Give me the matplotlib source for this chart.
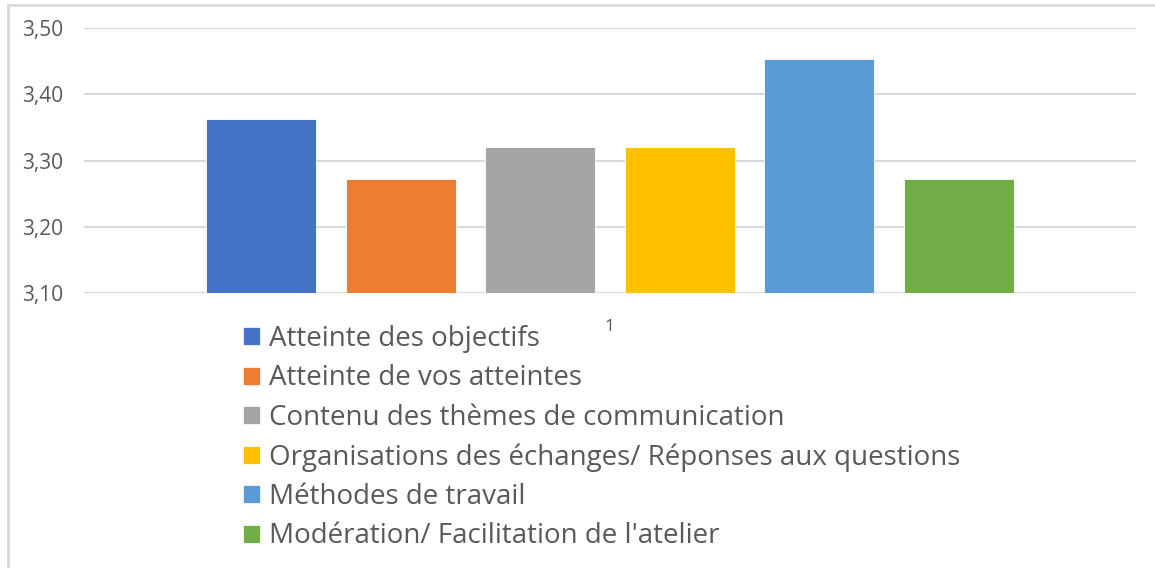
import matplotlib.pyplot as plt
from matplotlib.patches import Rectangle
from matplotlib.lines import Line2D
from matplotlib.ticker import FuncFormatter

plt.rcParams['font.family'] = ['Open Sans', 'DejaVu Sans']

# données
criteres = ['Atteinte des objectifs',
            'Atteinte de vos atteintes',
            'Contenu des thèmes de communication',
            'Organisations des échanges/ Réponses aux questions',
            'Méthodes de travail',
            "Modération/ Facilitation de l'atelier"]
scores = [3.363, 3.272, 3.32, 3.32, 3.453, 3.272]
couleurs = ['#4472C4', '#ED7D31', '#A5A5A5', '#FFC000', '#5B9BD5', '#70AD47']
categorie = ['1']
yticks = [3.10, 3.20, 3.30, 3.40, 3.50]

W, H = 1155, 568
fig = plt.figure(figsize=(W / 100, H / 100), dpi=100)
ax = fig.add_axes([84 / W, 1 - 293 / H, (1136 - 84) / W, (293 - 28) / H])

pos = range(len(scores))
ax.bar(pos, [s - yticks[0] for s in scores], bottom=yticks[0], width=0.789,
       color=couleurs, edgecolor='white', linewidth=0.6, zorder=3)

ax.set_ylim(yticks[0], yticks[-1])
ax.set_xlim(-1.269, 6.272)
ax.set_yticks(yticks)
ax.yaxis.set_major_formatter(FuncFormatter(lambda v, p: f'{v:.2f}'.replace('.', ',')))
ax.grid(axis='y', color='#d9d9d9', linewidth=1.5, zorder=0)
for s in ax.spines.values():
    s.set_visible(False)
ax.tick_params(axis='y', length=0, pad=15, labelsize=15, labelcolor='#595959')
ax.set_xticks([(len(scores) - 1) / 2])
ax.set_xticklabels(categorie)
ax.tick_params(axis='x', length=0, pad=19, labelsize=12.5, labelcolor='#595959')

# légende
handles = [Rectangle((0, 0), 1, 1, facecolor=c, edgecolor='white', linewidth=0.5) for c in couleurs]
leg = fig.legend(handles, criteres, loc='upper left',
                 bbox_to_anchor=(243 / W, 1 - 325 / H), frameon=False,
                 fontsize=20, handlelength=0.61, handleheight=0.61,
                 handletextpad=0.32, labelspacing=0.41,
                 borderpad=0, borderaxespad=0)
for t in leg.get_texts():
    t.set_color('#595959')

# cadre
fig.add_artist(Line2D([7.5 / W, 7.5 / W], [0, 1 - 5 / H], color='#d9d9d9', linewidth=2))
fig.add_artist(Line2D([7.5 / W, 1], [1 - 5 / H, 1 - 5 / H], color='#d9d9d9', linewidth=2))

fig.savefig('out.png', dpi=100)
